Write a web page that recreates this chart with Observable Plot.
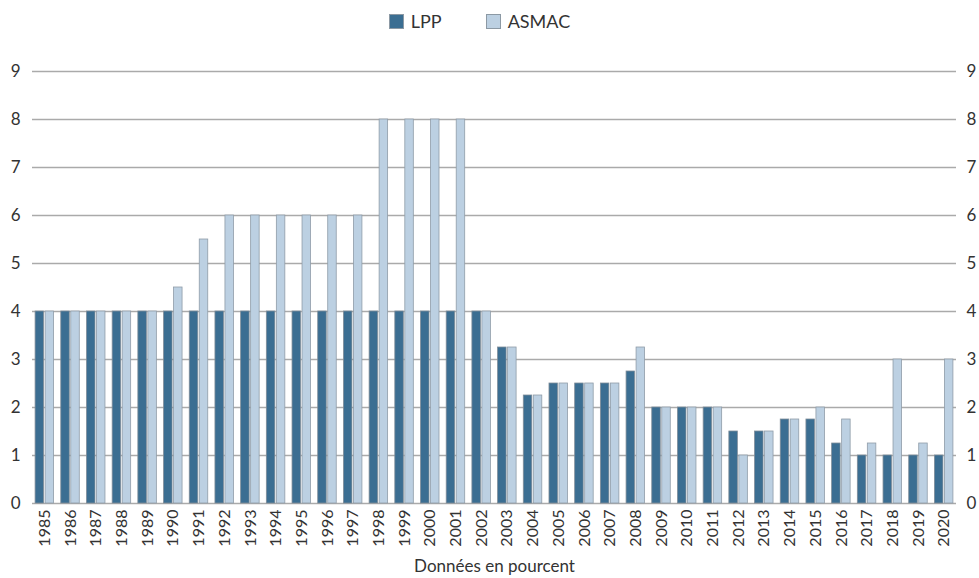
<!DOCTYPE html>
<html><head><meta charset="utf-8">
<script src="https://cdn.jsdelivr.net/npm/d3@7"></script>
<script src="https://cdn.jsdelivr.net/npm/@observablehq/plot@0.6"></script>
<style>
body{margin:0;background:#fff;font-family:Lato,"Open Sans",sans-serif;}
#legend{height:40px;display:flex;justify-content:center;align-items:center;font-size:18px;color:#333;box-sizing:border-box;padding-top:2px;padding-right:20px;}
.item{display:flex;align-items:center;margin:0 22px;}
.sw{width:13px;height:13px;border:1px solid #8c99a4;margin-right:7px;}
</style></head>
<body>
<div id="legend"></div>
<div id="chart"></div>
<script>
const years = ["1985","1986","1987","1988","1989","1990","1991","1992","1993","1994","1995","1996","1997","1998","1999","2000","2001","2002","2003","2004","2005","2006","2007","2008","2009","2010","2011","2012","2013","2014","2015","2016","2017","2018","2019","2020"];
const lpp = [4,4,4,4,4,4,4,4,4,4,4,4,4,4,4,4,4,4,3.25,2.25,2.5,2.5,2.5,2.75,2,2,2,1.5,1.5,1.75,1.75,1.25,1,1,1,1];
const asmac = [4,4,4,4,4,4.5,5.5,6,6,6,6,6,6,8,8,8,8,4,3.25,2.25,2.5,2.5,2.5,3.25,2,2,2,1,1.5,1.75,2,1.75,1.25,3,1.25,3];
const seriesNames = ["LPP","ASMAC"];
const yTicks = [0,1,2,3,4,5,6,7,8,9];
const xLabel = "Données en pourcent";
const colors = ["#3b6e92","#bcd0e2"];

const legend = document.getElementById("legend");
seriesNames.forEach((n,i)=>{
  const it=document.createElement("div");it.className="item";
  it.innerHTML=`<div class="sw" style="background:${colors[i]}"></div><span>${n}</span>`;
  legend.appendChild(it);
});

const dL = years.map((y,i)=>({year:y,value:lpp[i]}));
const dA = years.map((y,i)=>({year:y,value:asmac[i]}));

const chart = Plot.plot({
  width: 979, height: 538,
  marginLeft: 32, marginRight: 23, marginTop: 31, marginBottom: 75,
  style: {fontFamily: "Lato, 'Open Sans', sans-serif", fontSize: "15px", color: "#333"},
  x: {domain: years, paddingInner: 0.28, paddingOuter: 0.12, align: 0.5, round: false, label: null},
  y: {domain: [0,9], label: null},
  marks: [
    Plot.ruleY(yTicks, {stroke: "#aaaaaa", strokeWidth: 1.6}),
    Plot.barY(dL, {x: "year", y: "value", fill: colors[0], stroke: "#7f8d99", strokeWidth: 0.8, insetRight: 10}),
    Plot.barY(dA, {x: "year", y: "value", fill: colors[1], stroke: "#8f9ca8", strokeWidth: 0.8, insetLeft: 10}),
    Plot.axisY(yTicks, {anchor: "left", tickSize: 0, tickPadding: 12, fontSize: 17, label: null}),
    Plot.axisY(yTicks, {anchor: "right", tickSize: 0, tickPadding: 10, fontSize: 17, label: null}),
    Plot.axisX({tickSize: 0, tickPadding: 6, tickRotate: -90, fontSize: 16, label: xLabel, labelAnchor: "center", labelOffset: 68})
  ]
});
document.getElementById("chart").appendChild(chart);
chart.querySelectorAll('g[aria-label="x-axis label"] text').forEach(t=>{t.setAttribute("font-size","17");});
</script>
</body></html>
